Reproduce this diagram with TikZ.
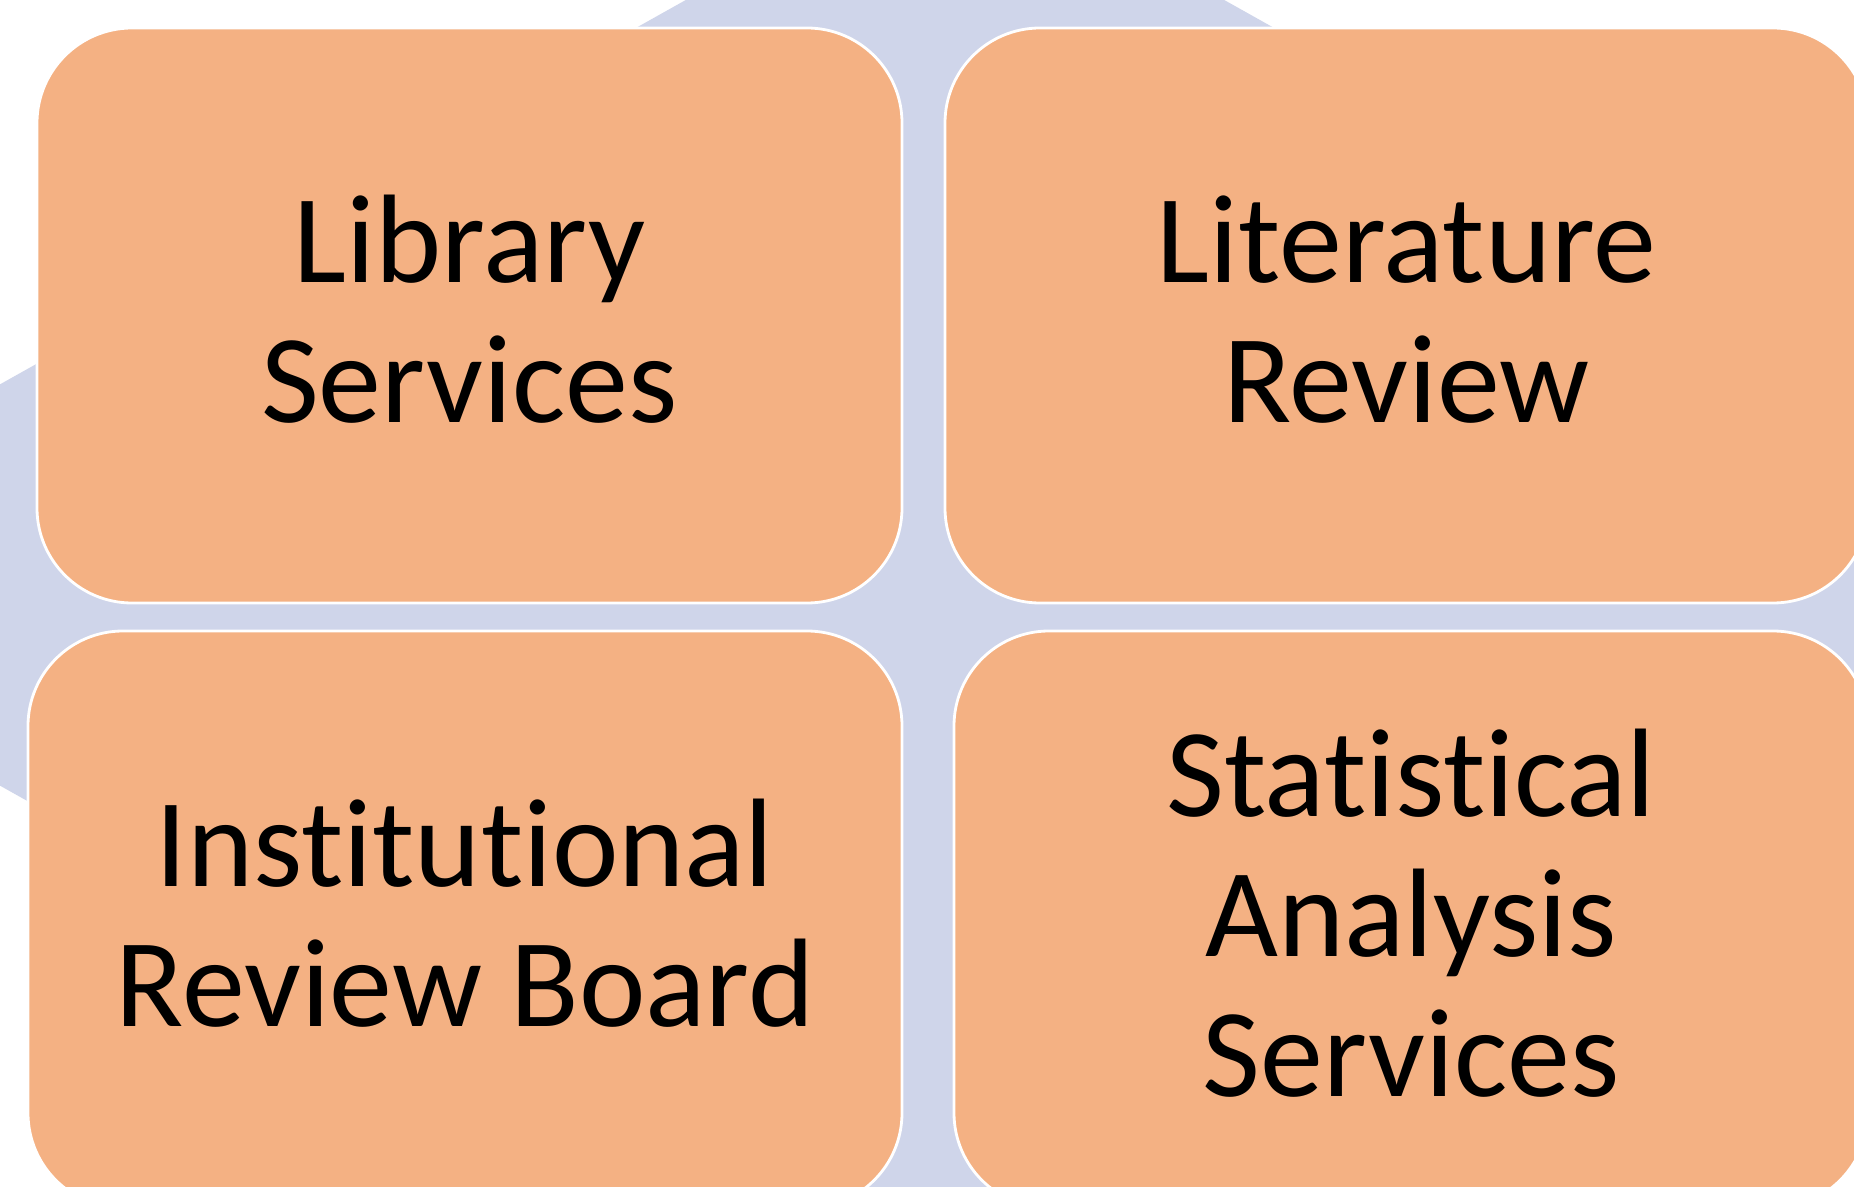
\documentclass[tikz,border=0pt]{standalone}
\usepackage{fontspec}
\setmainfont{Carlito}[Ligatures=NoCommon]
\definecolor{hexblue}{HTML}{CFD5EA}
\definecolor{boxorange}{HTML}{F4B183}
\begin{document}
\begin{tikzpicture}[x=0.5pt,y=-0.5pt,
  card/.style={draw=white,line width=1.4pt,fill=boxorange,rounded corners=47.5pt,inner sep=0pt},
  cardtext/.style={inner sep=0pt,align=center,font=\fontsize{63}{70}\selectfont,text=black,yshift=3pt}]
\useasboundingbox (0,0) rectangle (1854,1187);
\clip (0,0) rectangle (1854,1187);
\fill[white] (0,0) rectangle (1854,1187);
\fill[hexblue] (-358,585) -- (775,-50) -- (1135,-50) -- (2268,585) -- (1135,1220) -- (775,1220) -- cycle;
\node[card,minimum width=432.5pt,minimum height=287.5pt] (lib) at (469.5,315.5) {};
\node[card,minimum width=461.5pt,minimum height=287.5pt] (lit) at (1406.5,315.5) {};
\node[card,minimum width=437pt,minimum height=288.5pt] (irb) at (465,919.5) {};
\node[card,minimum width=457pt,minimum height=288.5pt] (stat) at (1411,919.5) {};
\node[cardtext] (libt) at (lib.center) {Library\\Services};
\node[cardtext] (litt) at (lit.center) {Literature\\Review};
\node[cardtext] (irbt) at (irb.center) {Institutional\\Review Board};
\node[cardtext] (statt) at (stat.center) {Statistical\\Analysis\\Services};
\end{tikzpicture}
\end{document}
